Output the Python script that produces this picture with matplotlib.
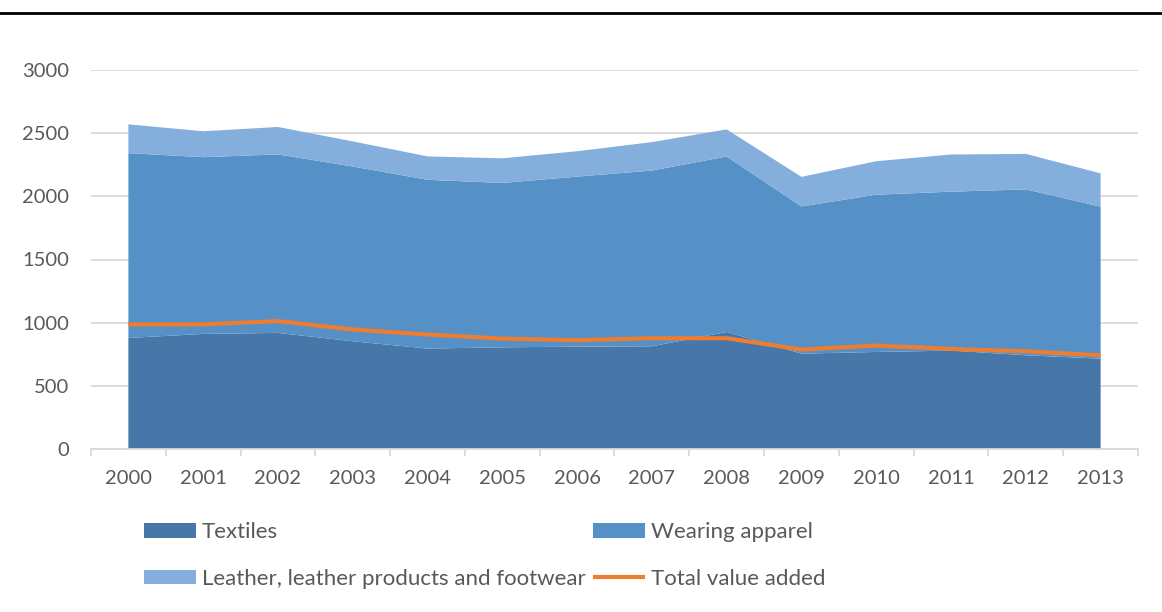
import matplotlib
matplotlib.use("Agg")
from matplotlib import pyplot as plt
import numpy as np

years = ["2000", "2001", "2002", "2003", "2004", "2005", "2006",
         "2007", "2008", "2009", "2010", "2011", "2012", "2013"]

textiles = [879, 911, 919, 853, 795, 805, 810, 813, 927, 755, 768, 779, 742, 715]
wearing_apparel = [1463, 1399, 1413, 1383, 1336, 1301, 1346, 1391, 1388, 1165, 1245, 1258, 1313, 1203]
leather = [228, 205, 217, 199, 185, 195, 201, 225, 215, 234, 265, 294, 281, 264]
total_value_added = [986, 986, 1012, 946, 906, 874, 861, 877, 877, 787, 819, 792, 773, 742]

plt.rcParams['font.family'] = ['Lato', 'DejaVu Sans']

text_color = "#595959"
grid_color = "#D9D9D9"
fs = 14.5
leg_fs = 16

fig = plt.figure(figsize=(11.62, 6.12), dpi=100)
ax = fig.add_axes([91 / 1162, 1 - 449 / 612, (1138 - 91) / 1162, 379 / 612])

x = np.arange(len(years))
areas = ax.stackplot(x, textiles, wearing_apparel, leather,
                     colors=["#4677A8", "#5591C7", "#84AEDB"],
                     labels=["Textiles", "Wearing apparel", "Leather, leather products and footwear"],
                     zorder=2)
line, = ax.plot(x, total_value_added, color="#ED7D31", lw=3, label="Total value added",
                solid_capstyle="butt", zorder=3)

ax.set_xlim(-0.5, len(years) - 0.5)
ax.set_ylim(0, 3000)
ax.set_yticks(np.arange(0, 3001, 500))
ax.yaxis.grid(True, color=grid_color, lw=1.3)
ax.set_axisbelow(True)

ax.set_xticks(x)
ax.set_xticklabels(years)
ax.set_xticks(np.arange(-0.5, len(years), 1), minor=True)
ax.tick_params(axis='x', which='major', length=0, pad=15, labelsize=fs, labelcolor=text_color)
ax.tick_params(axis='x', which='minor', length=5, width=1.3, color=grid_color, direction='out')
ax.tick_params(axis='y', length=0, pad=16, labelsize=fs, labelcolor=text_color)

for s in ["top", "right", "left"]:
    ax.spines[s].set_visible(False)
ax.spines["bottom"].set_color(grid_color)
ax.spines["bottom"].set_linewidth(1.3)

# black rule at the top of the page
fig.add_artist(plt.Line2D([0, 1], [1 - 12.5 / 612, 1 - 12.5 / 612], color="black", lw=2,
                          transform=fig.transFigure))

# legend: two columns placed separately (Excel style)
leg_kw = dict(loc="center left", frameon=False, fontsize=leg_fs, labelcolor=text_color,
              handlelength=2.34, handleheight=0.63, handletextpad=0.27,
              labelspacing=1.18, borderpad=0, borderaxespad=0)
fig.legend([areas[0], areas[2]], ["Textiles", "Leather, leather products and footwear"],
           bbox_to_anchor=(144 / 1162, 1 - 555.5 / 612), **leg_kw)
fig.legend([areas[1], line], ["Wearing apparel", "Total value added"],
           bbox_to_anchor=(593 / 1162, 1 - 555.5 / 612), **leg_kw)

fig.savefig("out.png", dpi=100)
